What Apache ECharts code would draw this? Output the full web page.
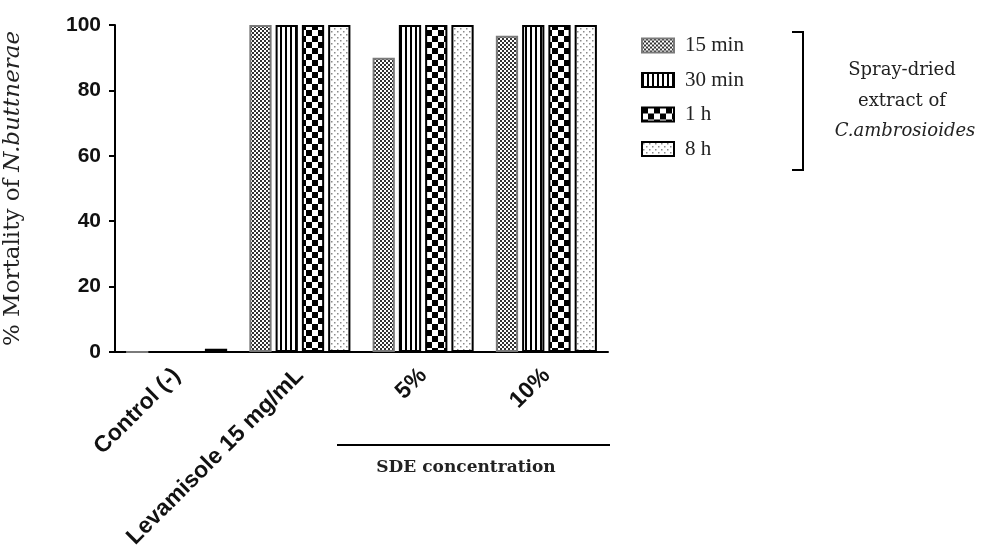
<!DOCTYPE html>
<html>
<head>
<meta charset="utf-8">
<script src="https://cdn.jsdelivr.net/npm/echarts@6/dist/echarts.min.js"></script>
<style>
  html, body { margin: 0; padding: 0; background: #fff; }
  #chart { width: 987px; height: 554px; }
</style>
</head>
<body>
<div id="chart"></div>
<script>
const categories = ['Control (-)', 'Levamisole 15 mg/mL', '5%', '10%']
const seriesNames = ['15 min', '30 min', '1 h', '8 h']
const min15 = [0, 100, 90, 96.7]
const min30 = [0, 100, 100, 100]
const hour1 = [0, 100, 100, 100]
const hour8 = [1, 100, 100, 100]
const yTicks = [0, 20, 40, 60, 80, 100]

// hatch fills, drawn on tiny canvases and repeated
function makePattern(kind) {
  const c = document.createElement('canvas')
  let ctx
  if (kind === 'fineCheck') {
    c.width = 4; c.height = 4
    ctx = c.getContext('2d')
    ctx.fillStyle = '#fff'; ctx.fillRect(0, 0, 4, 4)
    ctx.fillStyle = '#333'
    ctx.fillRect(0, 0, 2, 2); ctx.fillRect(2, 2, 2, 2)
  } else if (kind === 'stripes') {
    c.width = 5; c.height = 2
    ctx = c.getContext('2d')
    ctx.fillStyle = '#fff'; ctx.fillRect(0, 0, 5, 2)
    ctx.fillStyle = '#000'; ctx.fillRect(0, 0, 2, 2)
  } else if (kind === 'bigCheck') {
    c.width = 12; c.height = 12
    ctx = c.getContext('2d')
    ctx.fillStyle = '#fff'; ctx.fillRect(0, 0, 12, 12)
    ctx.fillStyle = '#000'
    ctx.fillRect(0, 0, 6, 6); ctx.fillRect(6, 6, 6, 6)
  } else {
    c.width = 6; c.height = 6
    ctx = c.getContext('2d')
    ctx.fillStyle = '#fff'; ctx.fillRect(0, 0, 6, 6)
    ctx.fillStyle = '#8a8a8a'
    ctx.fillRect(1, 1, 1.5, 1.5); ctx.fillRect(4, 4, 1.5, 1.5)
  }
  return { image: c, repeat: 'repeat' }
}

const fills = [makePattern('fineCheck'), makePattern('stripes'), makePattern('bigCheck'), makePattern('dots')]
const borders = ['#7a7a7a', '#000', '#000', '#000']
const values = [min15, min30, hour1, hour8]

const chart = echarts.init(document.getElementById('chart'))

const series = values.map((data, i) => ({
  type: 'bar',
  name: seriesNames[i],
  data,
  barGap: '18%',
  barCategoryGap: '18%',
  itemStyle: { color: fills[i], borderColor: borders[i], borderWidth: 2 },
  emphasis: { disabled: true },
}))

const option = {
  animation: false,
  grid: { left: 115, right: 379, top: 25, bottom: 202 },
  legend: {
    orient: 'vertical',
    left: 636,
    top: 30,
    itemWidth: 32,
    itemHeight: 14,
    itemGap: 13.5,
    icon: 'rect',
    textStyle: { fontFamily: 'Liberation Serif', fontSize: 21, color: '#222', padding: [0, 0, 0, 6] },
    data: seriesNames,
  },
  xAxis: {
    type: 'category',
    data: categories,
    axisLine: { lineStyle: { color: '#000', width: 2 } },
    axisTick: { alignWithLabel: true, length: 8, lineStyle: { color: '#000', width: 2 } },
    axisLabel: {
      rotate: 45,
      interval: 0,
      margin: 20,
      fontFamily: 'Liberation Sans',
      fontWeight: 'bold',
      fontSize: 23,
      color: '#111',
    },
  },
  yAxis: {
    type: 'value',
    min: yTicks[0],
    max: yTicks[yTicks.length - 1],
    interval: 20,
    splitLine: { show: false },
    axisLine: { show: true, lineStyle: { color: '#000', width: 2 } },
    axisTick: { show: true, length: 6, lineStyle: { color: '#000', width: 2 } },
    axisLabel: {
      margin: 14,
      fontFamily: 'Liberation Sans',
      fontWeight: 'bold',
      fontSize: 21,
      color: '#111',
    },
    name: '{a|% Mortality of }{b|N.buttnerae}',
    nameLocation: 'middle',
    nameRotate: 90,
    nameGap: 90,
    nameTextStyle: {
      rich: {
        a: { fontFamily: 'DejaVu Serif', fontSize: 23, color: '#222' },
        b: { fontFamily: 'DejaVu Serif', fontStyle: 'italic', fontSize: 23, color: '#222' },
      },
    },
  },
  graphic: [
    {
      type: 'polyline',
      shape: { points: [[792, 32], [803, 32], [803, 170], [792, 170]] },
      style: { stroke: '#000', lineWidth: 2, fill: null },
    },
    {
      type: 'text',
      style: { x: 902, y: 70, text: 'Spray-dried', textAlign: 'center', textVerticalAlign: 'middle', font: '18px "DejaVu Serif"', fill: '#222' },
    },
    {
      type: 'text',
      style: { x: 902, y: 101, text: 'extract of', textAlign: 'center', textVerticalAlign: 'middle', font: '18px "DejaVu Serif"', fill: '#222' },
    },
    {
      type: 'text',
      style: { x: 905, y: 131, text: 'C.ambrosioides', textAlign: 'center', textVerticalAlign: 'middle', font: 'italic 18px "DejaVu Serif"', fill: '#222' },
    },
    {
      type: 'line',
      shape: { x1: 337, y1: 445, x2: 610, y2: 445 },
      style: { stroke: '#000', lineWidth: 2 },
    },
    {
      type: 'text',
      style: { x: 466, y: 468, text: 'SDE concentration', textAlign: 'center', textVerticalAlign: 'middle', font: 'bold 17px "DejaVu Serif"', fill: '#222' },
    },
  ],
  series,
}

chart.setOption(option)
window.addEventListener('resize', () => chart.resize())
</script>
</body>
</html>
